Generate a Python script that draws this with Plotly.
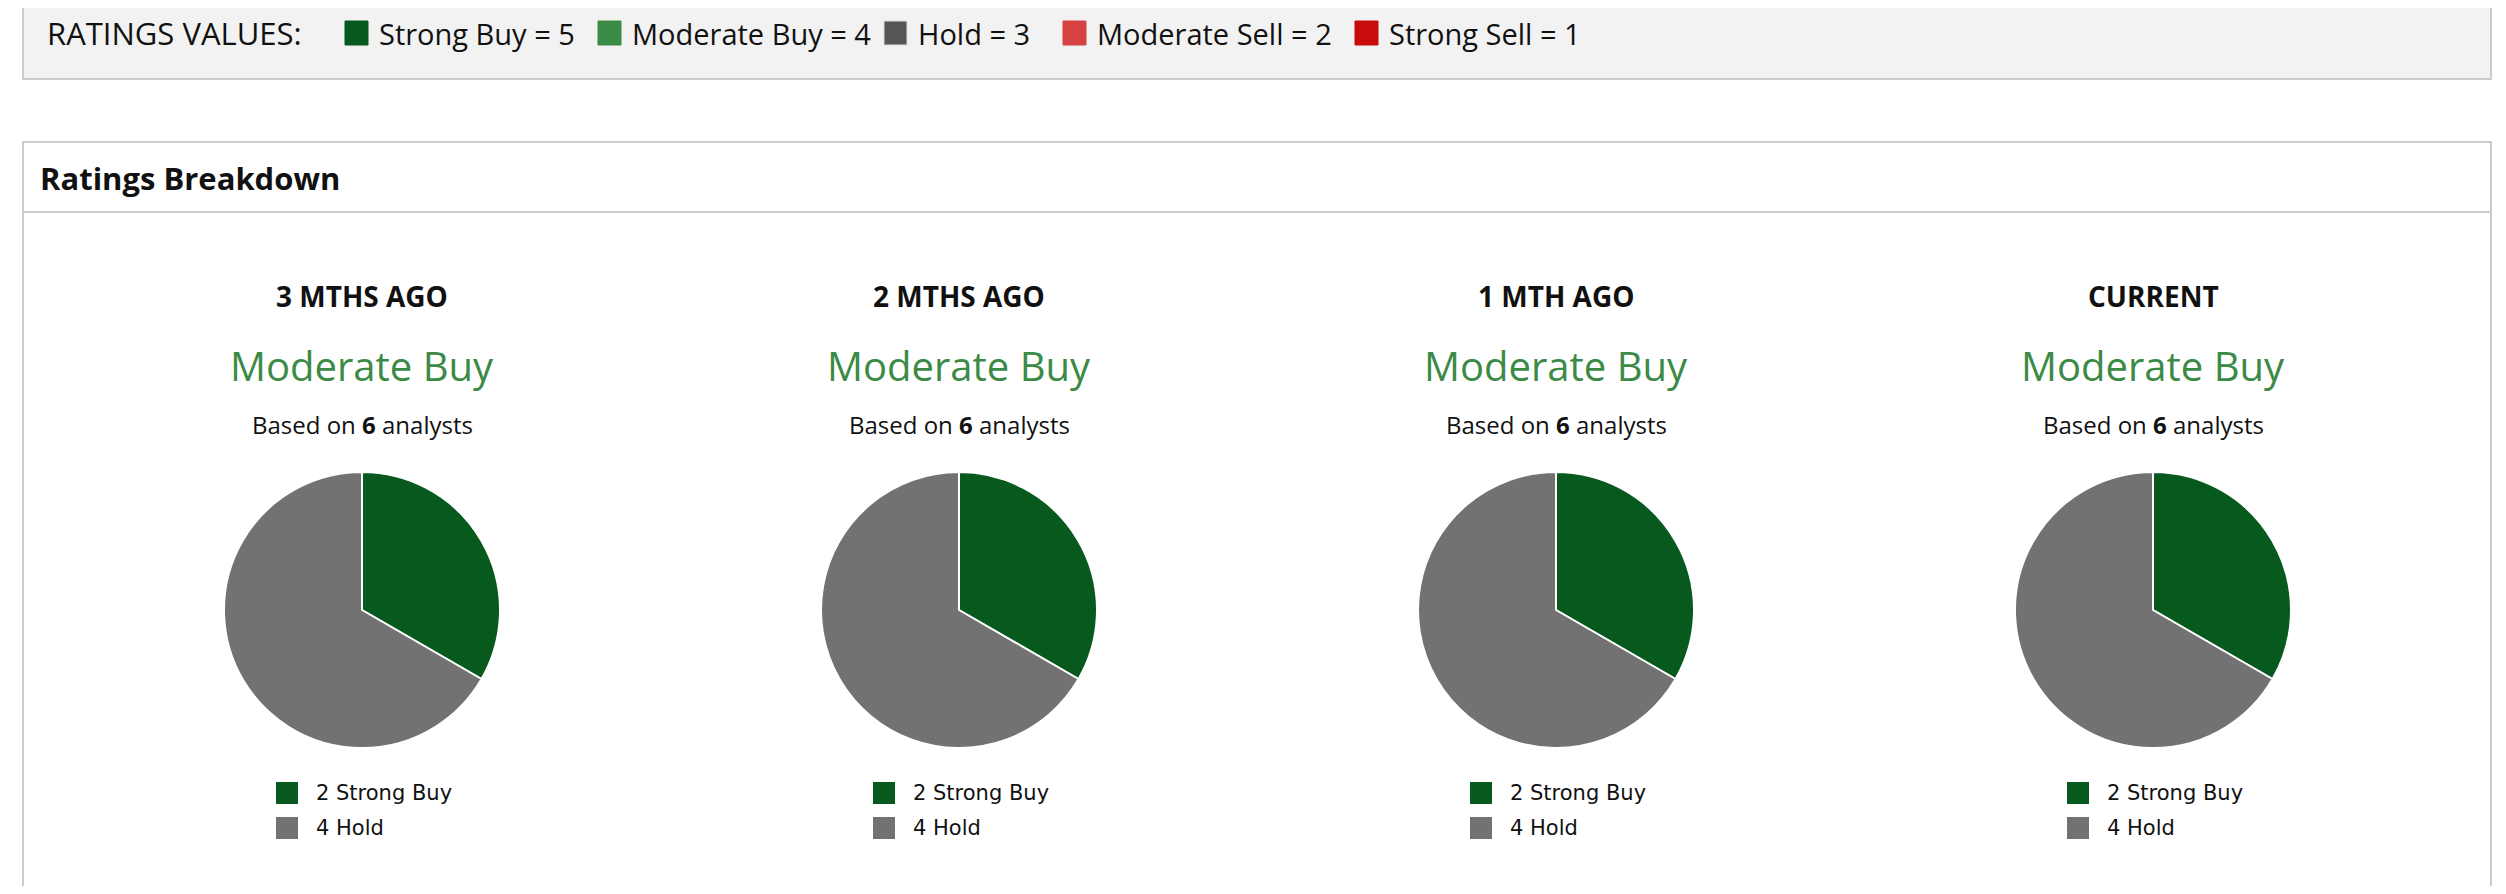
import plotly.graph_objects as go

# ratings scale shown in the grey key box
rating_names = ["Strong Buy", "Moderate Buy", "Hold", "Moderate Sell", "Strong Sell"]
rating_scores = [5, 4, 3, 2, 1]
key_colors = ["#07591e", "#3b8a45", "#555555", "#d64242", "#c80b0b"]
pie_colors = ["#07591e", "#3b8a45", "#727272", "#d64242", "#c80b0b"]

# analyst counts per period
periods = ["3 MTHS AGO", "2 MTHS AGO", "1 MTH AGO", "CURRENT"]
consensus = ["Moderate Buy", "Moderate Buy", "Moderate Buy", "Moderate Buy"]
strong_buy = [2, 2, 2, 2]
moderate_buy = [0, 0, 0, 0]
hold = [4, 4, 4, 4]
moderate_sell = [0, 0, 0, 0]
strong_sell = [0, 0, 0, 0]

W, H = 2506, 894
PAD = 8  # page body margin around the plot div
FW, FH = W - 2 * PAD, H - 2 * PAD


# page pixel -> paper coordinate
def fx(p):
    return (p - PAD) / FW


def fy(p):
    return 1 - (p - PAD) / FH


fig = go.Figure()
shapes = []
annotations = []

# grey key box at the top
shapes.append(dict(type="rect", xref="paper", yref="paper",
                   x0=fx(23), x1=fx(2491), y0=fy(79), y1=fy(-5),
                   fillcolor="#f2f2f2", line=dict(color="#cccccc", width=2), layer="below"))
annotations.append(dict(text="RATINGS VALUES:", x=fx(45), y=fy(33), xanchor="left", yanchor="middle",
                        font=dict(family="Open Sans", size=31, color="#111111")))
key_x = [345, 598, 884, 1063, 1355]
for i, name in enumerate(rating_names):
    x0 = key_x[i]
    shapes.append(dict(type="rect", xref="paper", yref="paper",
                       x0=fx(x0), x1=fx(x0 + 23), y0=fy(45), y1=fy(21),
                       fillcolor=key_colors[i],
                       line=dict(color="#dddddd" if name == "Hold" else key_colors[i], width=1)))
    annotations.append(dict(text=f"{name} = {rating_scores[i]}", x=fx(x0 + 32), y=fy(33),
                            xanchor="left", yanchor="middle",
                            font=dict(family="Open Sans", size=29, color="#111111")))

# breakdown panel
shapes.append(dict(type="rect", xref="paper", yref="paper",
                   x0=fx(23), x1=fx(2491), y0=fy(900), y1=fy(142),
                   fillcolor="white", line=dict(color="#cccccc", width=2), layer="below"))
shapes.append(dict(type="line", xref="paper", yref="paper",
                   x0=fx(23), x1=fx(2491), y0=fy(212), y1=fy(212),
                   line=dict(color="#cccccc", width=2)))
annotations.append(dict(text="<b>Ratings Breakdown</b>", x=fx(38), y=fy(178), xanchor="left", yanchor="middle",
                        font=dict(family="Open Sans", size=31, color="#111111")))

centers = [362, 959, 1556, 2153]
cy, r = 610, 138
for k, period in enumerate(periods):
    cx = centers[k]
    counts = [strong_buy[k], moderate_buy[k], hold[k], moderate_sell[k], strong_sell[k]]
    idx = [i for i, c in enumerate(counts) if c > 0]
    labels = [rating_names[i] for i in idx]
    values = [counts[i] for i in idx]
    colors = [pie_colors[i] for i in idx]

    fig.add_trace(go.Pie(
        labels=labels, values=values, sort=False, direction="clockwise", rotation=0,
        marker=dict(colors=colors, line=dict(color="white", width=2)),
        textinfo="none", hoverinfo="label+value", showlegend=False,
        domain=dict(x=[fx(cx - r), fx(cx + r)], y=[fy(cy + r), fy(cy - r)]),
    ))

    annotations.append(dict(text=f"<b>{period}</b>", x=fx(cx), y=fy(296), xanchor="center", yanchor="middle",
                            font=dict(family="Open Sans", size=28, color="#111111")))
    annotations.append(dict(text=consensus[k], x=fx(cx), y=fy(366), xanchor="center", yanchor="middle",
                            font=dict(family="Open Sans", size=40, color="#3b8a45")))
    annotations.append(dict(text=f"Based on <b>{sum(counts)}</b> analysts", x=fx(cx), y=fy(424),
                            xanchor="center", yanchor="middle",
                            font=dict(family="Open Sans", size=24, color="#111111")))

    # per-pie legend
    for j, i in enumerate(idx):
        ly = 793 + j * 35
        shapes.append(dict(type="rect", xref="paper", yref="paper",
                           x0=fx(cx - 86), x1=fx(cx - 64), y0=fy(ly + 11), y1=fy(ly - 11),
                           fillcolor=pie_colors[i], line=dict(width=0)))
        annotations.append(dict(text=f"{counts[i]} {rating_names[i]}", x=fx(cx - 48), y=fy(ly),
                                xanchor="left", yanchor="middle",
                                font=dict(family="DejaVu Sans", size=21, color="#111111")))

for a in annotations:
    a.update(xref="paper", yref="paper", showarrow=False)

fig.update_layout(
    width=FW, height=FH,
    margin=dict(l=0, r=0, t=0, b=0),
    paper_bgcolor="white", plot_bgcolor="white",
    shapes=shapes, annotations=annotations,
)

fig.write_html("out.html")
